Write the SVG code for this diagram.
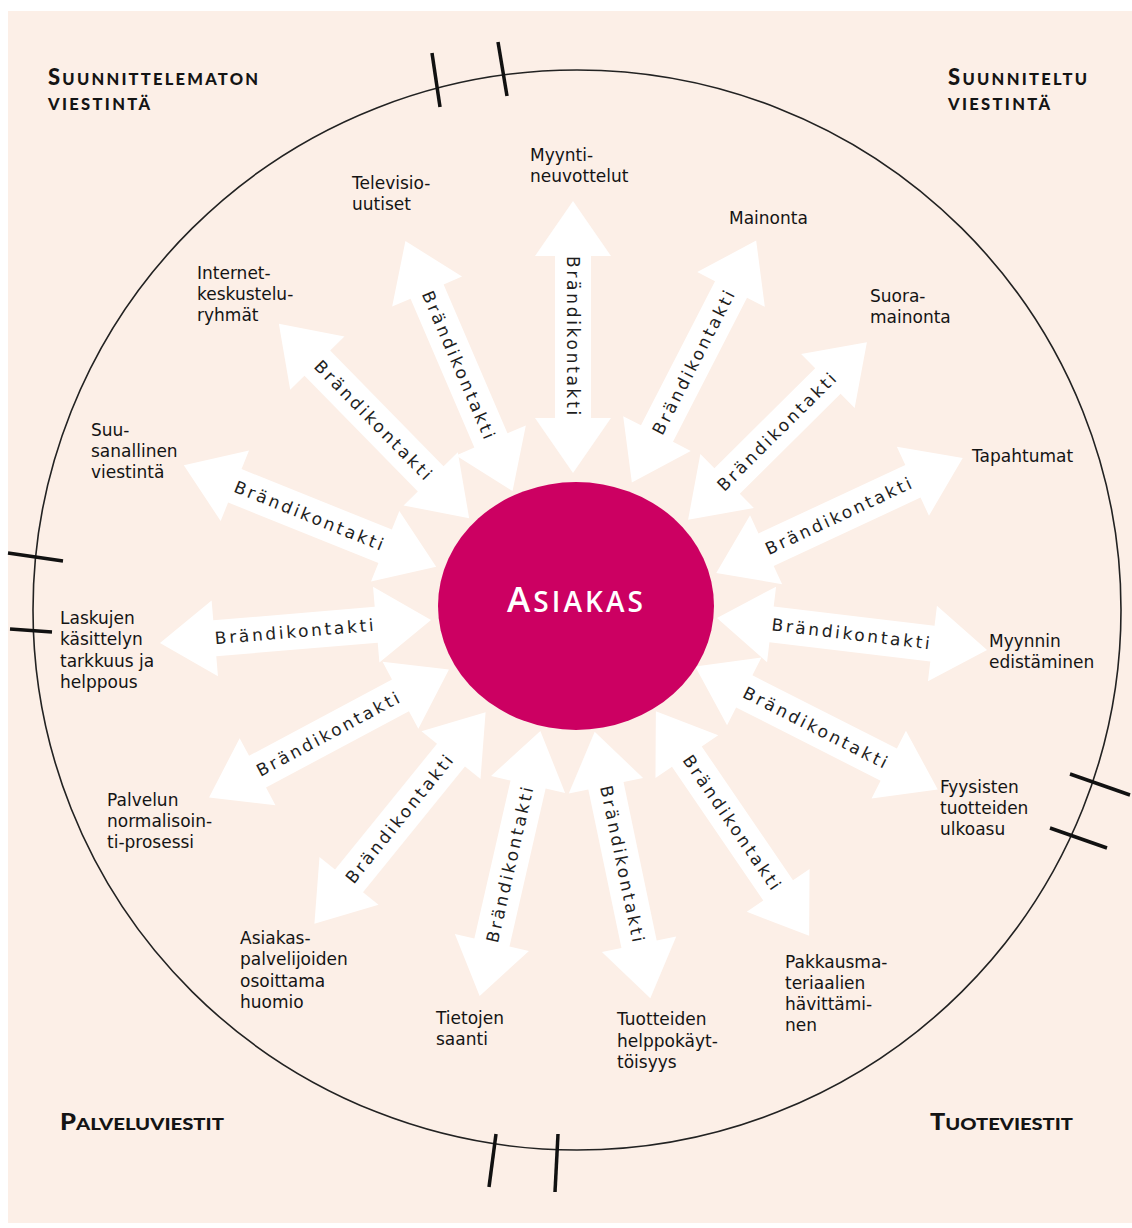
<svg xmlns="http://www.w3.org/2000/svg" xmlns:xlink="http://www.w3.org/1999/xlink" width="1132" height="1228" viewBox="0 0 1132 1228">
  <defs>
    <style>
      .lbl { font-family: "DejaVu Sans", "Noto Sans", sans-serif; font-size: 17px; fill: #141414; }
      .bk { font-family: "DejaVu Sans", "Noto Sans", sans-serif; font-size: 17px; fill: #1e1e1e; letter-spacing: 2.7px; text-anchor: middle; }
      .corner { font-family: "Lato", "DejaVu Sans", sans-serif; font-weight: 900; fill: #141414; }
      .arrow { fill: #ffffff; }
      .tick { stroke: #111; stroke-width: 3.5; stroke-linecap: butt; }
    </style>
    <!-- double-headed arrow, centred on the origin, pointing along x -->
    <path id="arr" d="M-136,0 L-81,-38 L-81,-18 L81,-18 L81,-38 L136,0 L81,38 L81,18 L-81,18 L-81,38 Z"/>
    <path id="arrShort" d="M-126,0 L-71,-38 L-71,-18 L71,-18 L71,-38 L126,0 L71,38 L71,18 L-71,18 L-71,38 Z"/>
  </defs>

  <!-- page -->
  <rect x="0" y="0" width="1132" height="1228" fill="#ffffff"/>
  <rect x="8" y="11" width="1124" height="1212" fill="#fcefe7"/>

  <!-- outer boundary with section ticks -->
  <g id="boundary">
    <ellipse cx="577" cy="610" rx="544" ry="540" fill="none" stroke="#222" stroke-width="1.6"/>
    <line class="tick" x1="432" y1="53" x2="440" y2="107"/>
    <line class="tick" x1="498" y1="42" x2="507" y2="96"/>
    <line class="tick" x1="8" y1="553" x2="63" y2="561"/>
    <line class="tick" x1="10" y1="629" x2="52" y2="632"/>
    <line class="tick" x1="1070" y1="774" x2="1130" y2="795"/>
    <line class="tick" x1="1050" y1="828" x2="1107" y2="848"/>
    <line class="tick" x1="496" y1="1134" x2="489" y2="1187"/>
    <line class="tick" x1="558" y1="1134" x2="555" y2="1192"/>
  </g>

  <!-- brand contact arrows -->
  <g id="connectors">
    <g transform="translate(573,337) rotate(90)"><use xlink:href="#arr" class="arrow"/><text class="bk" y="6">Brändikontakti</text></g>
    <g transform="translate(459,366) rotate(66.8)"><use xlink:href="#arr" class="arrow"/><text class="bk" y="6">Brändikontakti</text></g>
    <g transform="translate(374,421) rotate(45.6)"><use xlink:href="#arr" class="arrow"/><text class="bk" y="6">Brändikontakti</text></g>
    <g transform="translate(310,516) rotate(21.9)"><use xlink:href="#arr" class="arrow"/><text class="bk" y="6">Brändikontakti</text></g>
    <g transform="translate(295.5,631.5) rotate(-4.8)"><use xlink:href="#arr" class="arrow"/><text class="bk" y="6">Brändikontakti</text></g>
    <g transform="translate(329,733.5) rotate(-28.1)"><use xlink:href="#arr" class="arrow"/><text class="bk" y="6">Brändikontakti</text></g>
    <g transform="translate(400,818) rotate(-51)"><use xlink:href="#arr" class="arrow"/><text class="bk" y="6">Brändikontakti</text></g>
    <g transform="translate(510,863.5) rotate(-77.1)"><use xlink:href="#arr" class="arrow"/><text class="bk" y="6">Brändikontakti</text></g>
    <g transform="translate(622.5,865) rotate(78.2)"><use xlink:href="#arr" class="arrow"/><text class="bk" y="6">Brändikontakti</text></g>
    <g transform="translate(732.5,823.5) rotate(55.7)"><use xlink:href="#arr" class="arrow"/><text class="bk" y="6">Brändikontakti</text></g>
    <g transform="translate(816.5,728) rotate(26.9)"><use xlink:href="#arr" class="arrow"/><text class="bk" y="6">Brändikontakti</text></g>
    <g transform="translate(852,634) rotate(6.8)"><use xlink:href="#arr" class="arrow"/><text class="bk" y="6">Brändikontakti</text></g>
    <g transform="translate(839.5,515.5) rotate(-25)"><use xlink:href="#arr" class="arrow"/><text class="bk" y="6">Brändikontakti</text></g>
    <g transform="translate(777.5,431) rotate(-44.8)"><use xlink:href="#arrShort" class="arrow"/><text class="bk" y="6">Brändikontakti</text></g>
    <g transform="translate(694,361.5) rotate(-62.8)"><use xlink:href="#arr" class="arrow"/><text class="bk" y="6">Brändikontakti</text></g>
  </g>

  <!-- centre -->
  <g id="asiakas">
    <ellipse cx="576" cy="606" rx="138" ry="124" fill="#cc0062"/>
    <text x="507" y="612" textLength="136" lengthAdjust="spacing" font-family="Open Sans, DejaVu Sans, sans-serif" font-weight="600" fill="#ffffff" font-size="35">A<tspan font-size="28">SIAKAS</tspan></text>
  </g>

  <!-- contact points -->
  <g id="myyntineuvottelut"><text class="lbl" x="530" y="161">Myynti-<tspan x="530" dy="21">neuvottelut</tspan></text></g>
  <g id="televisiouutiset"><text class="lbl" x="352" y="189">Televisio-<tspan x="352" dy="21">uutiset</tspan></text></g>
  <g id="internet"><text class="lbl" x="197" y="279">Internet-<tspan x="197" dy="21">keskustelu-</tspan><tspan x="197" dy="21">ryhmät</tspan></text></g>
  <g id="suusanallinen"><text class="lbl" x="91" y="436">Suu-<tspan x="91" dy="21">sanallinen</tspan><tspan x="91" dy="21">viestintä</tspan></text></g>
  <g id="laskujen"><text class="lbl" x="60" y="624">Laskujen<tspan x="60" dy="21.3">käsittelyn</tspan><tspan x="60" dy="21.3">tarkkuus ja</tspan><tspan x="60" dy="21.3">helppous</tspan></text></g>
  <g id="palvelun"><text class="lbl" x="107" y="806">Palvelun<tspan x="107" dy="21">normalisoin-</tspan><tspan x="107" dy="21">ti-prosessi</tspan></text></g>
  <g id="asiakaspalvelijat"><text class="lbl" x="240" y="944">Asiakas-<tspan x="240" dy="21.3">palvelijoiden</tspan><tspan x="240" dy="21.3">osoittama</tspan><tspan x="240" dy="21.3">huomio</tspan></text></g>
  <g id="tietojen"><text class="lbl" x="436" y="1024">Tietojen<tspan x="436" dy="21">saanti</tspan></text></g>
  <g id="tuotteiden"><text class="lbl" x="617" y="1025">Tuotteiden<tspan x="617" dy="21.5">helppokäyt-</tspan><tspan x="617" dy="21.5">töisyys</tspan></text></g>
  <g id="pakkaus"><text class="lbl" x="785" y="968">Pakkausma-<tspan x="785" dy="21">teriaalien</tspan><tspan x="785" dy="21">hävittämi-</tspan><tspan x="785" dy="21">nen</tspan></text></g>
  <g id="fyysisten"><text class="lbl" x="940" y="793">Fyysisten<tspan x="940" dy="21">tuotteiden</tspan><tspan x="940" dy="21">ulkoasu</tspan></text></g>
  <g id="myynnin"><text class="lbl" x="989" y="647">Myynnin<tspan x="989" dy="21">edistäminen</tspan></text></g>
  <g id="tapahtumat"><text class="lbl" x="972" y="462">Tapahtumat</text></g>
  <g id="suoramainonta"><text class="lbl" x="870" y="302">Suora-<tspan x="870" dy="21">mainonta</tspan></text></g>
  <g id="mainonta"><text class="lbl" x="729" y="224">Mainonta</text></g>

  <!-- quadrant headings -->
  <g id="suunnittelematon">
    <text class="corner" x="48" y="85" textLength="210" lengthAdjust="spacing" font-size="22">S<tspan font-size="16.5">UUNNITTELEMATON</tspan></text>
    <text class="corner" x="48" y="110" textLength="102" lengthAdjust="spacing" font-size="16.5">VIESTINTÄ</text>
  </g>
  <g id="suunniteltu">
    <text class="corner" x="948" y="85" textLength="139" lengthAdjust="spacing" font-size="22">S<tspan font-size="16.5">UUNNITELTU</tspan></text>
    <text class="corner" x="948" y="110" textLength="102" lengthAdjust="spacing" font-size="16.5">VIESTINTÄ</text>
  </g>
  <g id="palveluviestit">
    <text class="corner" x="60" y="1130" textLength="164" lengthAdjust="spacingAndGlyphs" font-size="22">P<tspan font-size="17.5">ALVELUVIESTIT</tspan></text>
  </g>
  <g id="tuoteviestit">
    <text class="corner" x="930" y="1130" textLength="143" lengthAdjust="spacingAndGlyphs" font-size="22">T<tspan font-size="17.5">UOTEVIESTIT</tspan></text>
  </g>
</svg>
